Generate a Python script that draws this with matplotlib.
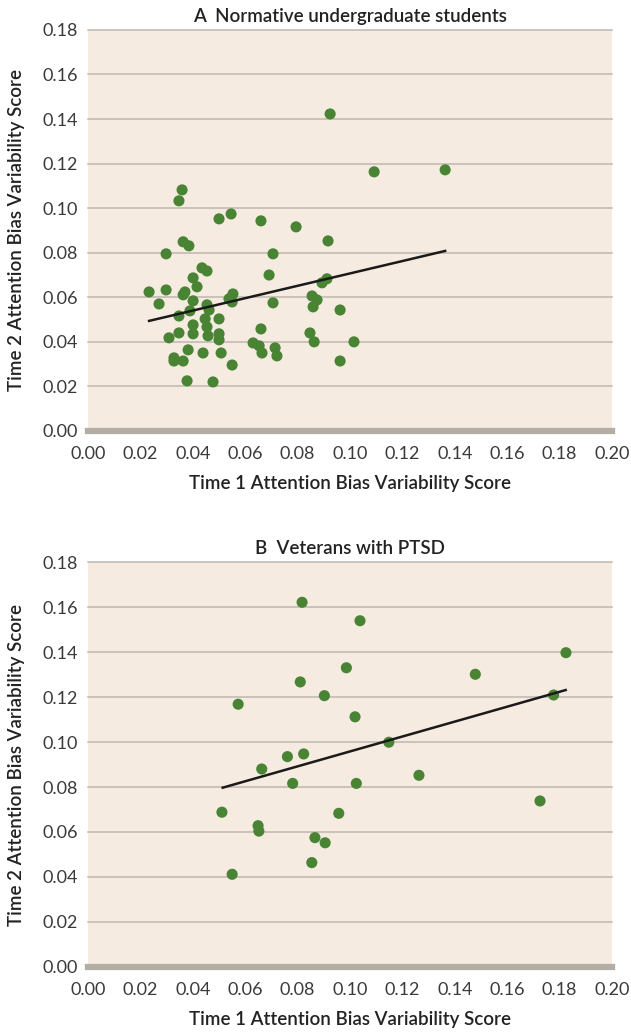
import numpy as np
import matplotlib
matplotlib.use('Agg')
import matplotlib.pyplot as plt

plt.rcParams['font.family'] = ['Lato', 'DejaVu Sans']

# panel A: normative undergraduate students
a_x = [0.0298, 0.0706, 0.0363, 0.0385, 0.0435, 0.0454, 0.0691, 0.0401, 0.0416, 0.0233,
       0.0298, 0.0370, 0.0363, 0.0553, 0.0538, 0.0550, 0.0401, 0.0271, 0.0454, 0.0706,
       0.0462, 0.0389, 0.0347, 0.0447, 0.0500, 0.0401, 0.0454, 0.0660, 0.0347, 0.0401,
       0.0458, 0.0500, 0.0500, 0.0309, 0.0630, 0.0653, 0.0664, 0.0714, 0.0721, 0.0382,
       0.0439, 0.0508, 0.0328, 0.0363, 0.0328, 0.0550, 0.0378, 0.0477, 0.0924, 0.1092,
       0.1363, 0.0794, 0.0916, 0.0893, 0.0912, 0.0855, 0.0874, 0.0859, 0.0962, 0.0847,
       0.0863, 0.1015, 0.0962, 0.0359, 0.0347, 0.0500, 0.0546, 0.0660]
a_y = [0.0795, 0.0795, 0.0849, 0.0831, 0.0732, 0.0718, 0.0700, 0.0687, 0.0647, 0.0624,
       0.0633, 0.0624, 0.0611, 0.0615, 0.0593, 0.0579, 0.0584, 0.0570, 0.0566, 0.0575,
       0.0543, 0.0539, 0.0516, 0.0503, 0.0503, 0.0476, 0.0467, 0.0458, 0.0440, 0.0436,
       0.0427, 0.0436, 0.0409, 0.0418, 0.0395, 0.0382, 0.0350, 0.0373, 0.0337, 0.0364,
       0.0350, 0.0350, 0.0328, 0.0314, 0.0314, 0.0296, 0.0225, 0.0220, 0.1423, 0.1163,
       0.1172, 0.0916, 0.0853, 0.0665, 0.0683, 0.0606, 0.0588, 0.0557, 0.0543, 0.0440,
       0.0400, 0.0400, 0.0314, 0.1082, 0.1033, 0.0952, 0.0974, 0.0943]
a_fit_x = [0.0233, 0.1363]
a_fit_y = [0.0494, 0.0808]

# panel B: veterans with PTSD
b_x = [0.0817, 0.1038, 0.0986, 0.0810, 0.0902, 0.0573, 0.1019, 0.1148, 0.0761, 0.0823,
       0.0663, 0.0781, 0.1024, 0.1263, 0.0511, 0.0957, 0.0649, 0.0652, 0.0866, 0.0905,
       0.0854, 0.0550, 0.1824, 0.1478, 0.1777, 0.1725]
b_y = [0.1621, 0.1539, 0.1330, 0.1267, 0.1206, 0.1168, 0.1112, 0.0999, 0.0935, 0.0947,
       0.0880, 0.0816, 0.0816, 0.0852, 0.0688, 0.0683, 0.0628, 0.0604, 0.0575, 0.0552,
       0.0464, 0.0412, 0.1397, 0.1301, 0.1209, 0.0738]
b_fit_x = [0.0514, 0.1823]
b_fit_y = [0.0797, 0.1231]

titles = ['A  Normative undergraduate students', 'B  Veterans with PTSD']
x_label = 'Time 1 Attention Bias Variability Score'
y_label = 'Time 2 Attention Bias Variability Score'
x_ticks = np.arange(0, 0.201, 0.02)
y_ticks = np.arange(0, 0.181, 0.02)

BG = '#F5EBE0'
GRID = '#BFB8B0'
BASE = '#B3ADA6'
DOT = '#488434'
TXT = '#222222'

fig = plt.figure(figsize=(6.31, 10.32), dpi=100)

panels = [
    ([0.1395, 0.5824, 0.8305, 0.3886], a_x, a_y, a_fit_x, a_fit_y),
    ([0.1395, 0.0630, 0.8305, 0.3924], b_x, b_y, b_fit_x, b_fit_y),
]

for (rect, xs, ys, fx, fy), title in zip(panels, titles):
    ax = fig.add_axes(rect)
    ax.set_facecolor(BG)
    ax.set_xlim(0, 0.20)
    ax.set_ylim(0, 0.18)
    for s in ax.spines.values():
        s.set_visible(False)
    for yv in y_ticks[1:]:
        ax.axhline(yv, color=GRID, lw=1.1, zorder=1, clip_on=False)
    ax.axhline(0, color=BASE, lw=4.5, zorder=1, clip_on=False)
    ax.scatter(xs, ys, s=64, color=DOT, edgecolors='none', zorder=3, clip_on=False)
    ax.plot(fx, fy, color='#1a1a1a', lw=1.8, zorder=4)

    ax.set_xticks(x_ticks)
    ax.set_yticks(y_ticks)
    ax.set_xticklabels([f'{v:.2f}' for v in x_ticks])
    ax.set_yticklabels([f'{v:.2f}' for v in y_ticks])
    ax.tick_params(length=0, labelsize=13, labelcolor='#3a3a3a')
    ax.tick_params(axis='x', pad=11)
    ax.tick_params(axis='y', pad=7)

    ax.set_title(title, fontsize=13.5, fontweight='semibold', color=TXT, pad=6)
    ax.set_xlabel(x_label, fontsize=13.5, fontweight='semibold', color=TXT, labelpad=9)
    ax.set_ylabel(y_label, fontsize=13.5, fontweight='semibold', color=TXT, labelpad=13)

fig.savefig('out.png', dpi=100, facecolor='white')
